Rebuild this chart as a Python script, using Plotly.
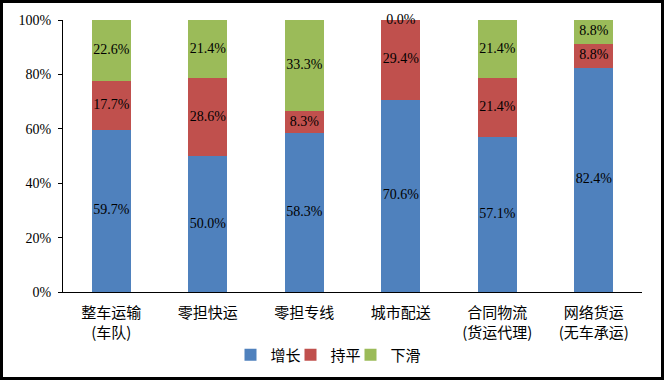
import plotly.graph_objects as go

categories = ["整车运输<br>(车队)", "零担快运", "零担专线", "城市配送", "合同物流<br>(货运代理)", "网络货运<br>(无车承运)"]
series_names = ["增长", "持平", "下滑"]
growth = [59.7, 50.0, 58.3, 70.6, 57.1, 82.4]
flat = [17.7, 28.6, 8.3, 29.4, 21.4, 8.8]
decline = [22.6, 21.4, 33.3, 0.0, 21.4, 8.8]
y_ticks = [0, 20, 40, 60, 80, 100]

colors = ["#4F81BD", "#C0504D", "#9BBB59"]
series = [growth, flat, decline]
legend_ids = ["legend", "legend2", "legend3"]

W, H = 664, 380
ML, MR, MT, MB = 63, 22, 20, 88
PW, PH = W - ML - MR, H - MT - MB

fig = go.Figure()
for name, vals, col, lg in zip(series_names, series, colors, legend_ids):
    fig.add_trace(go.Bar(x=categories, y=vals, name=name, marker=dict(color=col, line=dict(width=0)),
                         hoverinfo="x+y+name", legend=lg))

# data labels centred in each segment
base = [0.0] * len(categories)
for vals in series:
    ys = [b + v / 2 for b, v in zip(base, vals)]
    fig.add_trace(go.Scatter(x=categories, y=ys, mode="text",
                             text=[f"{v:.1f}%" for v in vals], textposition="middle center",
                             textfont=dict(family="Liberation Serif", size=14, color="#000000"),
                             cliponaxis=False, showlegend=False, hoverinfo="skip"))
    base = [b + v for b, v in zip(base, vals)]

legend_style = dict(orientation="h", xanchor="left", y=-63 / PH, yanchor="middle",
                    font=dict(family="Noto Sans CJK SC", size=15, color="#000000"),
                    itemwidth=30, bgcolor="rgba(0,0,0,0)")
legend_lefts = [230.5, 290.5, 350.5]

fig.update_layout(
    width=W, height=H,
    margin=dict(l=ML, r=MR, t=MT, b=MB, autoexpand=False),
    paper_bgcolor="white", plot_bgcolor="white",
    barmode="stack", bargap=0.6,
    showlegend=True,
    legend=dict(x=(legend_lefts[0] - ML) / PW, **legend_style),
    legend2=dict(x=(legend_lefts[1] - ML) / PW, **legend_style),
    legend3=dict(x=(legend_lefts[2] - ML) / PW, **legend_style),
    xaxis=dict(showline=True, linecolor="#000000", linewidth=1, ticks="",
               tickfont=dict(family="Noto Sans CJK SC", size=15, color="#000000"),
               showgrid=False, fixedrange=True, automargin=False, ticklabelstandoff=7),
    yaxis=dict(range=[0, 100], tickvals=y_ticks, ticktext=[f"{t}%" for t in y_ticks],
               showline=True, linecolor="#000000", linewidth=1, ticks="outside", ticklen=4,
               tickcolor="#000000", showgrid=False, zeroline=False,
               tickfont=dict(family="Liberation Serif", size=14, color="#000000"),
               ticklabelstandoff=4, fixedrange=True, automargin=False),
    shapes=[dict(type="rect", xref="paper", yref="paper",
                 x0=(-ML + 1.5) / PW, x1=1 + (MR - 1.5) / PW,
                 y0=(-MB + 1.5) / PH, y1=1 + (MT - 1.5) / PH,
                 line=dict(color="#000000", width=3), fillcolor="rgba(0,0,0,0)", layer="above")],
)

fig.write_html("out.html", config={"displayModeBar": False},
               post_script="document.body.style.margin='0';")
